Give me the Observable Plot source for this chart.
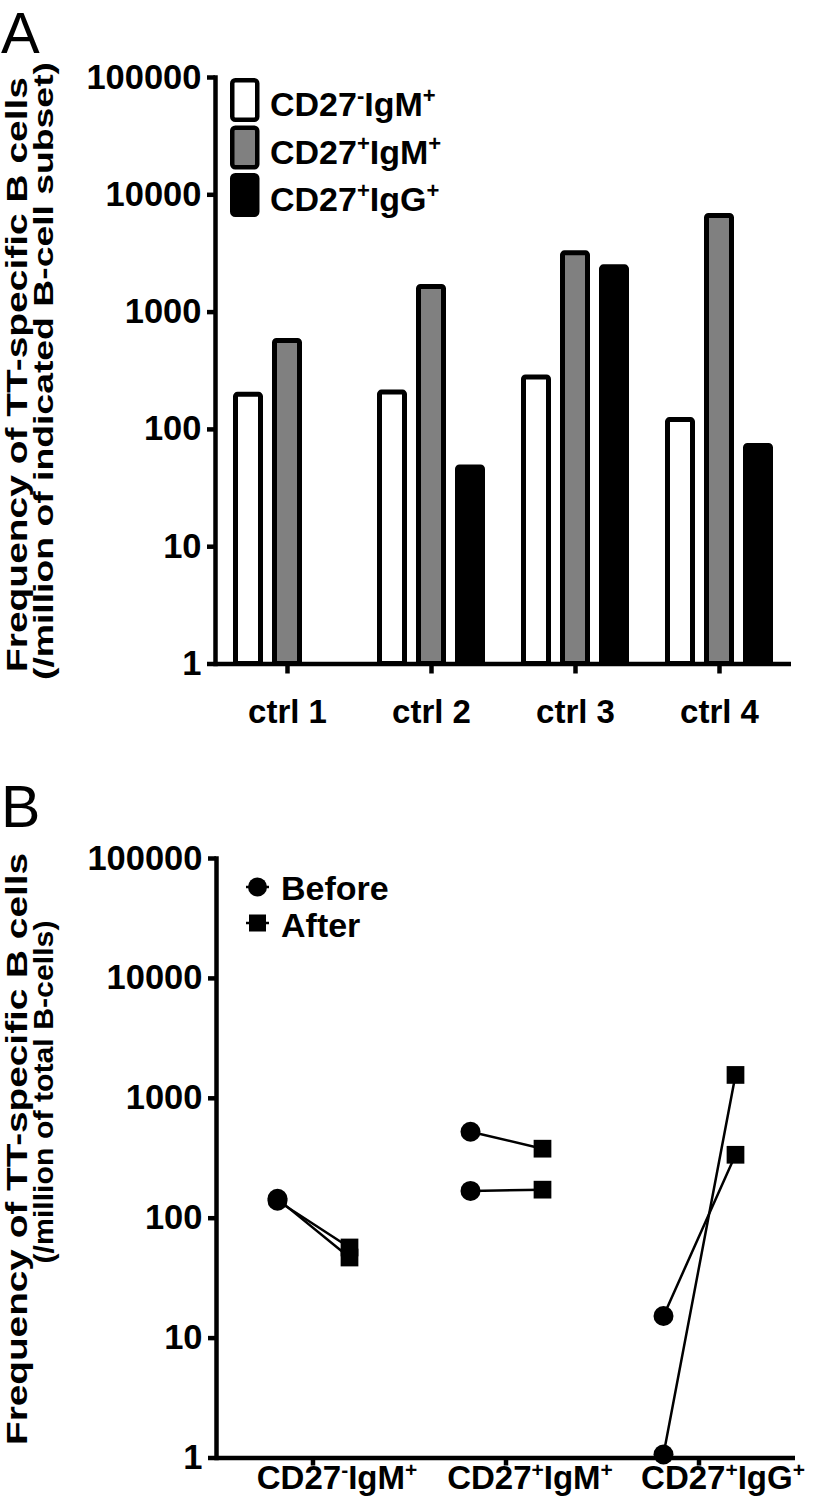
<!DOCTYPE html>
<html>
<head>
<meta charset="utf-8">
<script src="https://cdn.jsdelivr.net/npm/d3@7"></script>
<script src="https://cdn.jsdelivr.net/npm/@observablehq/plot@0.6"></script>
<style>
  html, body { margin: 0; padding: 0; background: #fff; }
  #wrap { position: relative; width: 819px; height: 1507px; overflow: hidden; background: #fff; }
  #wrap svg.pl { position: absolute; left: 0; }
  #overlay { position: absolute; left: 0; top: 0; pointer-events: none; }
  .pl text { font-family: "Liberation Sans", Arial, Helvetica, sans-serif; font-weight: bold; font-size: 34.5px; fill: #000; }
  .pl [aria-label^="x-axis"] text, .pl [aria-label^="fx-axis"] text { font-size: 33px; }
  .pl [aria-label^="y-axis"] line, .pl [aria-label^="y-axis"] path,
  .pl [aria-label^="x-axis"] line, .pl [aria-label^="x-axis"] path,
  .pl [aria-label^="fx-axis"] line, .pl [aria-label^="fx-axis"] path,
  .pl [aria-label="frame"], .pl [aria-label="frame"] line { stroke: #000; stroke-width: 4.5px; }
  #overlay text { font-family: "Liberation Sans", Arial, Helvetica, sans-serif; fill: #000; }
</style>
</head>
<body>
<div id="wrap"></div>
<script>
// ---------- data ----------
const ctrls = ["ctrl 1", "ctrl 2", "ctrl 3", "ctrl 4"];
const subsets = ["CD27-IgM+", "CD27+IgM+", "CD27+IgG+"];
const freqCD27negIgM = [197, 206, 277, 120];
const freqCD27posIgM = [567, 1636, 3170, 6600];
const freqCD27posIgG = [null, 47.4, 2408, 72.3];
const subsetFills = ["#ffffff", "#808080", "#000000"];
const yTicks = [1, 10, 100, 1000, 10000, 100000];

const times = ["Before", "After"];
const donor1Before = [145, 526, 15.3];
const donor1After = [47, 380, 338];
const donor2Before = [140, 169, 1.07];
const donor2After = [57, 173, 1566];

const yTitleA = ["Frequency of TT-specific B cells", "(/million of indicated B-cell subset)"];
const yTitleB = ["Frequency of TT-specific B cells", "(/million of total B-cells)"];

// ---------- tables ----------
const seriesA = [freqCD27negIgM, freqCD27posIgM, freqCD27posIgG];
const rowsA = [];
ctrls.forEach((c, i) => subsets.forEach((s, j) => {
  const v = seriesA[j][i];
  if (v != null) rowsA.push({ctrl: c, subset: s, value: v});
}));

const rowsB = [];
[[donor1Before, donor1After], [donor2Before, donor2After]].forEach(([b, a], k) => {
  subsets.forEach((s, j) => {
    rowsB.push({subset: s, time: "Before", value: b[j], pair: `d${k}-${s}`});
    rowsB.push({subset: s, time: "After", value: a[j], pair: `d${k}-${s}`});
  });
});

const ns = "http://www.w3.org/2000/svg";
function mk(tag, attrs, parent, text) {
  const e = document.createElementNS(ns, tag);
  for (const k in attrs) e.setAttribute(k, attrs[k]);
  if (text != null) e.textContent = text;
  if (parent) parent.appendChild(e);
  return e;
}
function richLabel(t, label, supSize, raise) {
  const m = label.match(/^(CD27)([+-])(Ig[MG])([+-])$/);
  if (!m) return;
  t.textContent = "";
  const parts = [[m[1], false], [m[2], true], [m[3], false], [m[4], true]];
  let shifted = false;
  for (const [s, sup] of parts) {
    const ts = document.createElementNS(ns, "tspan");
    if (sup) {
      ts.setAttribute("font-size", supSize);
      ts.setAttribute("dy", -raise);
      shifted = true;
    } else if (shifted) {
      ts.setAttribute("dy", raise);
      shifted = false;
    }
    ts.textContent = s;
    t.appendChild(ts);
  }
}

const wrap = document.getElementById("wrap");

// ---------- panel A ----------
const svgA = Plot.plot({
  width: 819, height: 740,
  marginTop: 77, marginBottom: 76.5, marginLeft: 215, marginRight: 28,
  x: {domain: ctrls, padding: 0, tickSize: 10, tickPadding: 26, label: null},
  y: {type: "log", domain: [1, 100000], ticks: yTicks, tickFormat: d => String(d),
      tickSize: 8, tickPadding: 6, line: true, label: null},
  marks: [
    ...subsets.map((s, j) => Plot.barY(rowsA.filter(d => d.subset === s), {
      x: "ctrl", y1: () => 1, y2: "value",
      fill: subsetFills[j], stroke: "#000", strokeWidth: 5, rx: 2,
      insetLeft: 59.5, insetRight: 59.5, dx: (j - 1) * 39
    })),
    Plot.ruleY([1], {stroke: "#000", strokeWidth: 4.5})
  ]
});
svgA.classList.add("pl");
svgA.style.top = "0px";
wrap.appendChild(svgA);

// ---------- panel B ----------
const svgB = Plot.plot({
  width: 819, height: 767,
  marginTop: 118, marginBottom: 49.5, marginLeft: 215, marginRight: 24,
  facet: {data: rowsB, x: "subset"},
  fx: {domain: subsets, padding: 0, axis: "bottom", tickSize: 8, tickPadding: 0, label: null},
  x: {type: "point", domain: times, padding: 0.83, axis: null},
  y: {type: "log", domain: [1, 100000], ticks: yTicks, tickFormat: d => String(d),
      tickSize: 8, tickPadding: 6, line: true, label: null},
  symbol: {domain: times, range: ["circle", "square"]},
  marks: [
    Plot.ruleY([1], {stroke: "#000", strokeWidth: 4.5}),
    Plot.line(rowsB, {x: "time", y: "value", z: "pair", stroke: "#000", strokeWidth: 2.5}),
    Plot.dot(rowsB, {x: "time", y: "value", symbol: "time", fill: "#000", stroke: "none", r: 10})
  ]
});
svgB.classList.add("pl");
svgB.style.top = "740px";
wrap.appendChild(svgB);

svgB.querySelectorAll('[aria-label^="fx-axis"] text').forEach(t => {
  const label = t.textContent;
  richLabel(t, label, 21, 12);
  const tr = t.getAttribute("transform") || "";
  t.setAttribute("transform", (tr + " translate(24,0)").trim());
});

// ---------- overlay: panel letters, axis titles, legends ----------
const ov = mk("svg", {id: "overlay", width: 819, height: 1507, viewBox: "0 0 819 1507"}, wrap);

mk("text", {x: 1, y: 53, "font-size": 58}, ov, "A");
mk("text", {x: 1, y: 827, "font-size": 59}, ov, "B");

function yTitle(lines, specs) {
  lines.forEach((s, i) => {
    const [bx, cy, len, fs] = specs[i];
    mk("text", {transform: `translate(${bx},${cy}) rotate(-90)`, "text-anchor": "middle",
      "font-size": fs, "font-weight": "bold", textLength: len, lengthAdjust: "spacingAndGlyphs"}, ov, s);
  });
}
yTitle(yTitleA, [[27, 374.5, 595, 29.5], [53, 371, 618, 28.5]]);
yTitle(yTitleB, [[27, 1149, 592, 29.5], [53, 1092, 343, 28.5]]);

// legend A
subsets.forEach((s, j) => {
  const top = 78 + 47.5 * j;
  mk("rect", {x: 232.25, y: top + 2.25, width: 25, height: 39.5, rx: 3,
    fill: subsetFills[j], stroke: "#000", "stroke-width": 4.5}, ov);
  const t = mk("text", {x: 270, y: 116 + 47.5 * j, "font-size": 34, "font-weight": "bold"}, ov, s);
  richLabel(t, s, 22, 13);
});

// legend B
const legB = [["Before", 887, 900], ["After", 923, 937]];
legB.forEach(([name, cy, base], i) => {
  mk("line", {x1: 246, x2: 269, y1: cy, y2: cy, stroke: "#000", "stroke-width": 2.5}, ov);
  if (i === 0) mk("circle", {cx: 257.5, cy, r: 9.5, fill: "#000"}, ov);
  else mk("rect", {x: 249, y: cy - 8.5, width: 17, height: 17, fill: "#000"}, ov);
  mk("text", {x: 281, y: base, "font-size": 34, "font-weight": "bold"}, ov, name);
});
</script>
</body>
</html>
